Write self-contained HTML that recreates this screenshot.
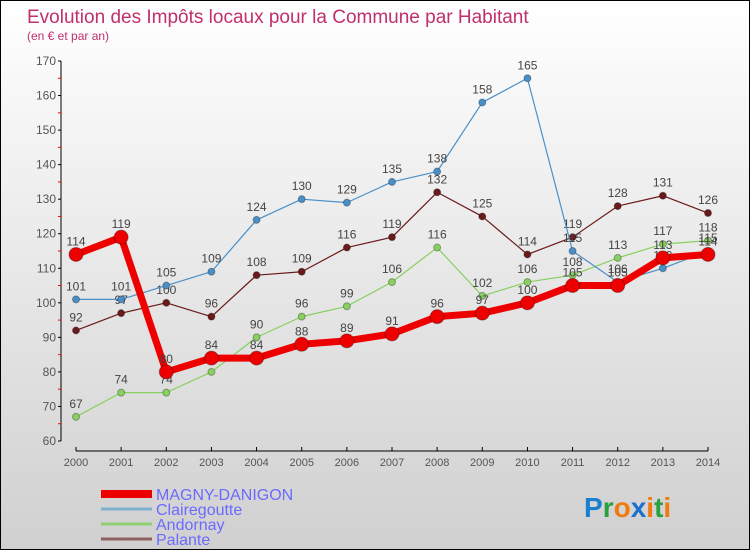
<!DOCTYPE html>
<html><head><meta charset="utf-8"><style>
body{margin:0}
#c{width:748px;height:548px;border:1px solid #000;background:linear-gradient(#fff,#d0d0d0);position:relative;font-family:"Liberation Sans",sans-serif;overflow:hidden}
</style></head><body>
<div id="c">
<svg id="s" width="748" height="548">
<text x="26" y="22" font-size="19" fill="#c0306a">Evolution des Impôts locaux pour la Commune par Habitant</text>
<text x="26" y="39" font-size="12" fill="#c0306a">(en € et par an)</text>
<g id="axes"></g><g id="series"></g><g id="legend"></g>
<text x="583" y="516" font-size="28" font-weight="bold"><tspan fill="#1a7fd0">P</tspan><tspan fill="#2aa040">r</tspan><tspan fill="#f07a10">o</tspan><tspan fill="#1a6fd0">x</tspan><tspan fill="#f07a10">i</tspan><tspan fill="#2aa040">t</tspan><tspan fill="#f07a10">i</tspan></text>
</svg></div>
<script>
const years=[2000,2001,2002,2003,2004,2005,2006,2007,2008,2009,2010,2011,2012,2013,2014];
const yTicks=[60,70,80,90,100,110,120,130,140,150,160,170];
const magny=[114,119,80,84,84,88,89,91,96,97,100,105,105,113,114];
const claire=[101,101,105,109,124,130,129,135,138,158,165,115,106,110,115];
const andornay=[67,74,74,80,90,96,99,106,116,102,106,108,113,117,118];
const palante=[92,97,100,96,108,109,116,119,132,125,114,119,128,131,126];
const NS="http://www.w3.org/2000/svg";
function X(i){return 75+i*(632/14);}
function Y(v){return 440-(v-60)*3.4545;}
function mk(t,a,p){const e=document.createElementNS(NS,t);for(const k in a)e.setAttribute(k,a[k]);(p||document.getElementById('series')).appendChild(e);return e;}
const ax=document.getElementById('axes');
let e=mk('line',{x1:60,y1:Y(170),x2:60,y2:440,stroke:'#000'},ax);

e=mk('line',{x1:75,y1:450,x2:707,y2:450,stroke:'#000'},ax);

yTicks.forEach(v=>{mk('line',{x1:57,y1:Y(v),x2:60,y2:Y(v),stroke:'#000'},ax);
 if(v<170)mk('line',{x1:57,y1:Y(v+5),x2:60,y2:Y(v+5),stroke:'#f00'},ax);
 const t=mk('text',{x:55,y:Y(v)+4,'font-size':12,fill:'#555','text-anchor':'end'},ax);t.textContent=v;
 });
years.forEach((y,i)=>{mk('line',{x1:X(i),y1:446,x2:X(i),y2:450,stroke:'#000'},ax);
 const t=mk('text',{x:X(i),y:465,'font-size':11,fill:'#555','text-anchor':'middle'},ax);t.textContent=y;
 });
function series(d,col,w,r,name){
 const p=mk('polyline',{points:d.map((v,i)=>X(i)+','+Y(v)).join(' '),fill:'none',stroke:col,'stroke-width':w,'stroke-linejoin':'round'});
 
 d.forEach((v,i)=>{const c=mk('circle',{cx:X(i),cy:Y(v),r:r,fill:col,stroke:'rgba(0,0,0,0.3)'});
  
  const t=mk('text',{x:X(i),y:Y(v)-9,'font-size':12,fill:'#444','text-anchor':'middle'});t.textContent=v;
  });
}
series(palante,'#6b1a1a',1.2,3.5,'palante');
series(andornay,'#88d060',1.2,3.5,'andornay');
series(claire,'#4a90c8',1.2,3.5,'clairegoutte');
series(magny,'#ee0000',7,7,'magny-danigon');
const lg=document.getElementById('legend');
[['MAGNY-DANIGON','#ee0000',8],['Clairegoutte','#80b0d0',3],['Andornay','#90d070',3],['Palante','#906060',3]].forEach((s,i)=>{
 const y=493+i*15;
 const l=mk('line',{x1:100,y1:y,x2:151,y2:y,stroke:s[1],'stroke-width':s[2]},lg);
 
 const t=mk('text',{x:155,y:y+6,'font-size':16,fill:'#6a6aff'},lg);t.textContent=s[0];
 });
</script></body></html>
